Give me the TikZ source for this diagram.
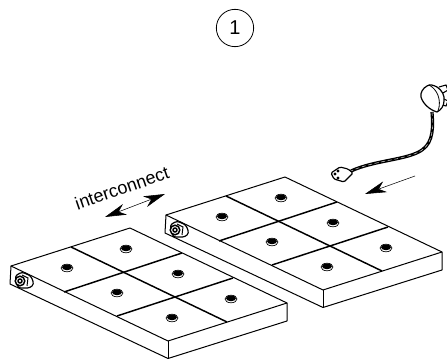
\documentclass[tikz,border=0pt]{standalone}
\usepackage{fontspec}
\setmainfont{Liberation Sans}
\usetikzlibrary{arrows.meta}
\tikzset{
    edgeline/.style={black, line width=0.75pt, line join=round},
    gridline/.style={black, line width=1.1pt},
    numcircle/.style={draw, circle, black, line width=0.6pt, minimum size=28pt, inner sep=0pt, font=\fontsize{15}{15}\selectfont},
    movearrow/.style={black, line width=0.4pt, -{Stealth[length=16pt, width=8.5pt, inset=5pt]}},
    bothways/.style={black, line width=0.4pt, {Stealth[length=16pt, width=8.5pt, inset=5pt]}-{Stealth[length=16pt, width=8.5pt, inset=5pt]}},
    label/.style={font=\fontsize{13.5}{13.5}\selectfont, rotate=19},
}
\newcommand{\knob}[2]{
    \draw[black, line width=0.5pt, fill=white] (#1,#2) ellipse (6 and 3.8);
    \fill[black] (#1,#2-0.7) ellipse (5 and 2.9);
}
\newcommand{\socket}[2]{
    \draw[black, line width=0.9pt, fill=white, rounded corners=2pt] (#1-4,#2-5) -- (#1+3,#2-9) -- (#1+12,#2-5) -- (#1+15,#2+3) -- (#1+11,#2+7) -- (#1-1,#2+7) -- cycle;
    \draw[black, line width=1.1pt, fill=white] (#1+1,#2) circle (4.8);
    \draw[black, line width=1.1pt] (#1+1,#2) circle (2);
    \draw[black, line width=0.7pt] (#1+3,#2-6) -- (#1+9,#2-3) -- (#1+8,#2+5);
}
\begin{document}
\begin{tikzpicture}[x=0.75pt, y=-0.75pt]
    \useasboundingbox (0,0) rectangle (447,359);

    \node [numcircle] (num) at (235,28) {1};

    % the two panels
    \foreach \dx/\dy in {0/0, 155/-51} {
        \begin{scope}[shift={(\dx,\dy)}]
            \draw[edgeline, fill=white] (11,266) -- (130,228) -- (287,303) -- (287,321) -- (168,358.5) -- (10,284) -- cycle;
            \draw[edgeline] (11,266) -- (168,341) -- (287,303);
            \draw[edgeline] (168,341) -- (168,358.5);

            \draw[gridline] (71,247) -- (227,322);
            \draw[gridline] (64,292) -- (182,253);
            \draw[gridline] (117,316) -- (233,278);

            \knob{67}{268}
            \knob{126}{249}
            \knob{117}{293}
            \knob{178}{274}
            \knob{172}{318}
            \knob{231}{299}
            \socket{19}{281}
        \end{scope}
    }

    % mains lead
    \coordinate (leadA) at (432,112);
    \coordinate (leadB) at (351,171);
    \draw[black, line width=2.4pt] (leadA) .. controls (433,125) and (434,142) .. (422,150) .. controls (408,160) and (375,160) .. (leadB);
    \draw[white, line width=0.3pt, dash pattern=on 3pt off 2pt] (leadA) .. controls (433,125) and (434,142) .. (422,150) .. controls (408,160) and (375,160) .. (leadB);

    % mains plug
    \draw[black, line width=0.8pt, fill=white] (439,87) -- (446,85) -- (448,90) -- (443,93);
    \draw[black, line width=0.8pt, fill=white] (444,99) -- (448,101) -- (446,106) -- (442,105);
    \draw[black, line width=0.9pt, fill=white] (427,86) .. controls (423,88) and (420,93) .. (421,97) .. controls (423,104) and (430,110) .. (437,112) .. controls (441,110) and (444,106) .. (444,101) .. controls (445,96) and (442,90) .. (437,87) .. controls (433,85) and (430,84) .. cycle;
    \draw[black, line width=0.6pt] (429,85) .. controls (437,89) and (442,100) .. (438,111);

    % lead connector
    \draw[black, line width=0.9pt, fill=white, rounded corners=1pt] (331,173) -- (340,167) -- (348,169) -- (353,173) -- (344,182) -- (334,179) -- cycle;
    \fill[black] (335,174) circle (1.7) (338,178) circle (1.7) (338,171) circle (1.7);

    % arrows
    \coordinate (plugFrom) at (415,176);
    \coordinate (plugTo) at (365,194);
    \draw[movearrow] (plugFrom) -- (plugTo);
    \coordinate (linkA) at (105,217);
    \coordinate (linkB) at (165,194);
    \draw[bothways] (linkA) -- (linkB);

    \node [label] (link) at (122,188) {interconnect};
\end{tikzpicture}
\end{document}
